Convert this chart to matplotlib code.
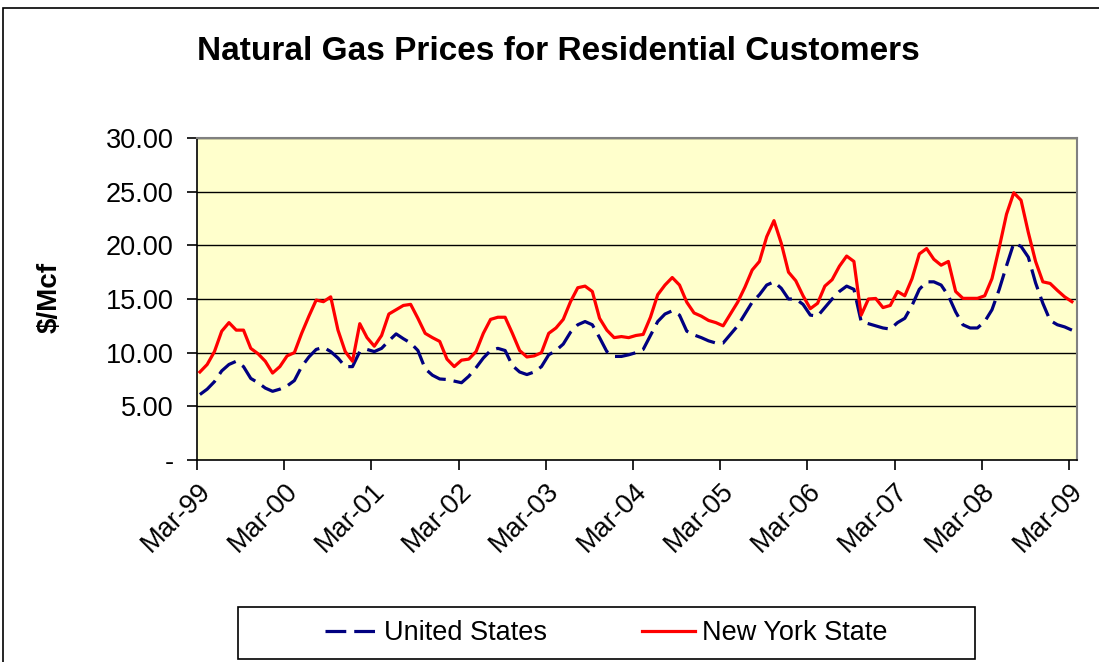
import numpy as np
import matplotlib
matplotlib.use("Agg")
import matplotlib.pyplot as plt
from matplotlib.patches import Rectangle

plt.rcParams['font.family'] = ['Liberation Sans', 'DejaVu Sans']

# monthly prices, Mar-99 .. Mar-09 ($/Mcf)
us_prices = [6.1, 6.6, 7.3, 8.3, 8.9, 9.2, 8.7, 7.6, 7.2, 6.7, 6.4, 6.6,
             6.9, 7.4, 8.7, 9.6, 10.3, 10.5, 10.1, 9.5, 8.7, 8.7, 10.1, 10.3,
             10.1, 10.4, 11.1, 11.75, 11.3, 10.9, 10.2, 8.5, 7.9, 7.55, 7.5, 7.35,
             7.2, 7.8, 8.6, 9.5, 10.2, 10.4, 10.2, 8.8, 8.2, 7.96, 8.2, 8.7,
             9.8, 10.2, 10.8, 11.9, 12.6, 12.9, 12.6, 11.4, 10.1, 9.65, 9.65, 9.8,
             10.0, 10.3, 11.6, 12.9, 13.6, 13.9, 13.5, 12.0, 11.65, 11.4, 11.1, 10.9,
             10.9, 11.7, 12.5, 13.6, 14.7, 15.4, 16.3, 16.6, 16.0, 15.0, 15.0, 14.5,
             13.5, 13.4, 14.2, 15.0, 15.7, 16.2, 15.9, 12.9, 12.7, 12.5, 12.3, 12.2,
             12.8, 13.2, 14.4, 15.9, 16.6, 16.6, 16.3, 15.3, 13.8, 12.6, 12.3, 12.3,
             12.9, 14.0, 15.9, 18.1, 20.2, 19.9, 18.9, 16.5, 14.6, 13.0, 12.6, 12.4,
             12.1]

ny_prices = [8.2, 8.9, 10.1, 12.0, 12.8, 12.1, 12.1, 10.4, 9.9, 9.2, 8.1, 8.7,
             9.7, 10.0, 11.8, 13.4, 14.9, 14.75, 15.2, 12.1, 10.1, 9.2, 12.7, 11.4,
             10.6, 11.6, 13.6, 14.0, 14.4, 14.5, 13.2, 11.8, 11.4, 11.05, 9.4, 8.7,
             9.3, 9.4, 10.1, 11.8, 13.1, 13.3, 13.3, 11.8, 10.2, 9.6, 9.7, 10.0,
             11.8, 12.3, 13.1, 14.75, 16.05, 16.2, 15.7, 13.2, 12.1, 11.4, 11.5, 11.4,
             11.6, 11.7, 13.3, 15.4, 16.3, 17.0, 16.3, 14.7, 13.7, 13.4, 13.0, 12.8,
             12.5, 13.6, 14.7, 16.1, 17.7, 18.5, 20.8, 22.3, 20.2, 17.5, 16.7, 15.3,
             14.1, 14.6, 16.2, 16.8, 18.05, 19.0, 18.5, 13.5, 15.0, 15.05, 14.2, 14.4,
             15.7, 15.3, 16.9, 19.2, 19.7, 18.7, 18.15, 18.5, 15.7, 15.06, 15.06, 15.06,
             15.3, 16.9, 19.8, 22.9, 24.9, 24.2, 21.2, 18.5, 16.6, 16.45, 15.8, 15.2,
             14.75]

tick_labels = ['Mar-99', 'Mar-00', 'Mar-01', 'Mar-02', 'Mar-03', 'Mar-04',
               'Mar-05', 'Mar-06', 'Mar-07', 'Mar-08', 'Mar-09']
y_ticks = [0, 5, 10, 15, 20, 25, 30]
y_labels = ['-', '5.00', '10.00', '15.00', '20.00', '25.00', '30.00']

months = np.arange(len(us_prices)) + 0.4

W, H = 1099, 662
fig = plt.figure(figsize=(W / 100, H / 100), dpi=100)
ax = fig.add_axes([197 / W, 1 - 460 / H, 880 / W, 322 / H])
ax.set_facecolor('#FFFFCC')

# outer chart border (cropped at right/bottom in the original)
fig.patches.append(Rectangle((3 / W, -0.05), 1.2, (H - 8) / H + 0.05,
                             transform=fig.transFigure, fill=False,
                             edgecolor='black', linewidth=1.2))
# legend box
fig.patches.append(Rectangle((238 / W, 1 - 659 / H), (975 - 238) / W, 52 / H,
                             transform=fig.transFigure, facecolor='white',
                             edgecolor='black', linewidth=1.2))

for v in y_ticks[1:]:
    ax.axhline(v, color='black', linewidth=1.0, zorder=1)

ax.plot(months, us_prices, color='#000080', linewidth=2.3, dashes=(6.5, 2.5),
        label='United States', zorder=3)
ax.plot(months, ny_prices, color='#FF0000', linewidth=2.3,
        label='New York State', zorder=4)

ax.set_xlim(0, 121.1)
ax.set_ylim(0, 30)
ax.set_xticks(np.arange(0, 121, 12))
ax.set_xticklabels(tick_labels, rotation=45, ha='right', rotation_mode='anchor',
                   fontsize=19.5)
ax.set_yticks(y_ticks)
ax.set_yticklabels(y_labels, fontsize=19.5)
ax.tick_params(axis='both', direction='out', length=7, width=1.2, color='black')
ax.tick_params(axis='x', pad=6)
ax.tick_params(axis='y', pad=10)

for side in ['top', 'right']:
    ax.spines[side].set_color('#808080')
    ax.spines[side].set_linewidth(1.5)
for side in ['left', 'bottom']:
    ax.spines[side].set_color('black')
    ax.spines[side].set_linewidth(1.2)

fig.text(50 / W, 1 - 297 / H, '$/Mcf', rotation=90, ha='center', va='center',
         fontsize=20, fontweight='bold')
fig.text(558 / W, 1 - 52 / H, 'Natural Gas Prices for Residential Customers',
         ha='center', va='center', fontsize=24, fontweight='bold')

fig.legend(loc='center', bbox_to_anchor=(606 / W, 1 - 633 / H),
           ncol=2, fontsize=19.5, frameon=False, handlelength=1.95,
           columnspacing=3.5, handletextpad=0.25)

fig.savefig('out.png', dpi=100)
